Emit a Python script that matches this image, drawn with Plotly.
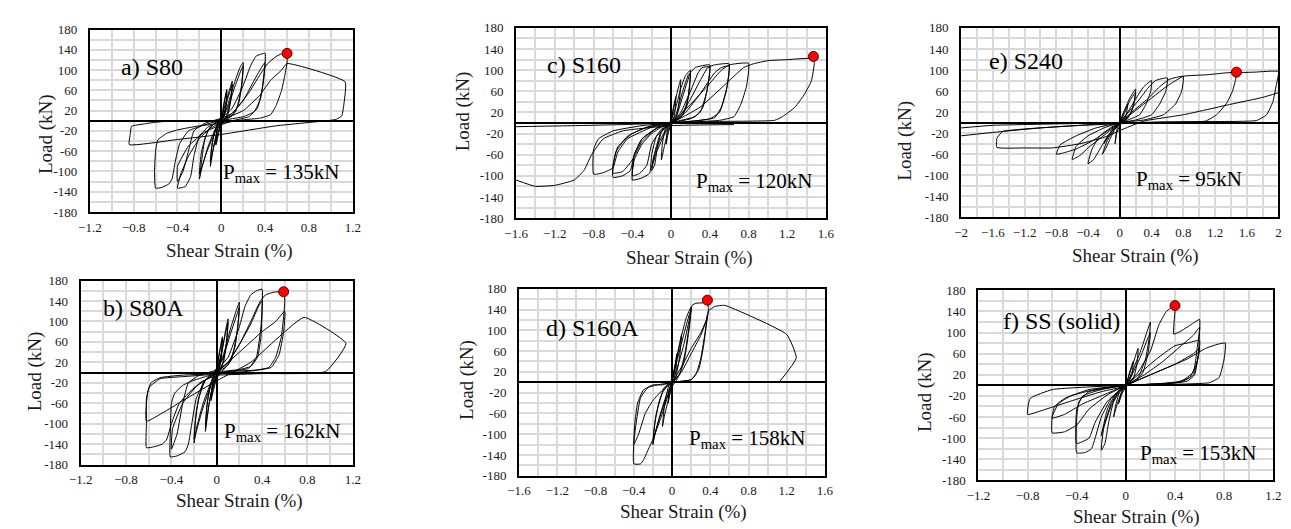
import plotly.graph_objects as go

# ---------------- data ----------------
S80_pts = [
(0,0),(0.02,30),(0.05,62),(0.045,35),(0.03,12),(0.01,3),(-0.01,-8),(-0.03,-30),(-0.05,-48),(-0.045,-25),(-0.03,-8),(-0.01,0),(0.01,10),(0.03,40),(0.05,58),(0.04,25),(0.02,5),(0,-3),(-0.03,-28),(-0.05,-45),(-0.04,-15),(-0.02,2),(0,6),
(0.04,35),(0.08,65),(0.1,78),(0.09,45),(0.06,12),(0.02,0),(-0.03,-15),(-0.07,-50),(-0.1,-90),(-0.09,-55),(-0.06,-20),(-0.02,-2),(0.02,12),(0.06,45),(0.1,72),(0.08,35),(0.04,5),(0,-6),(-0.05,-35),(-0.1,-80),(-0.08,-40),(-0.04,-8),(0,5),
(0.05,25),(0.12,75),(0.17,105),(0.2,115),(0.19,80),(0.16,35),(0.1,10),(0.03,2),(-0.05,-15),(-0.12,-50),(-0.18,-95),(-0.2,-115),(-0.18,-80),(-0.15,-35),(-0.1,-12),(-0.03,0),(0.05,20),(0.12,65),(0.18,100),(0.2,108),(0.18,60),(0.13,18),(0.05,3),(-0.05,-20),(-0.13,-60),(-0.2,-105),(-0.18,-60),(-0.12,-18),(-0.05,-3),(0,5),
(0.1,25),(0.2,70),(0.27,110),(0.32,128),(0.4,133),(0.39,95),(0.36,45),(0.3,18),(0.2,8),(0.05,2),(-0.1,-15),(-0.2,-35),(-0.3,-70),(-0.37,-105),(-0.4,-133),(-0.33,-130),(-0.28,-110),(-0.25,-70),(-0.2,-30),(-0.12,-12),(0,0),(0.1,15),(0.2,40),(0.3,80),(0.38,110),(0.4,115),(0.38,70),(0.33,25),(0.25,8),(0.1,0),(0,-8),(-0.15,-22),(-0.3,-50),(-0.4,-90),(-0.4,-120),(-0.35,-100),(-0.3,-60),(-0.25,-20),(-0.15,-5),(0,5),
(0.1,15),(0.25,55),(0.35,90),(0.42,112),(0.5,127),(0.55,132),(0.6,133),(0.6,115),(0.58,90),(0.55,60),(0.5,30),(0.45,12),(0.35,5),(0.2,2),(0,-5),(-0.2,-10),(-0.4,-18),(-0.5,-25),(-0.58,-38),(-0.6,-60),(-0.61,-100),(-0.6,-133),(-0.55,-132),(-0.48,-125),(-0.45,-115),(-0.42,-80),(-0.38,-45),(-0.3,-20),(-0.15,-8),(0,2),(0.2,20),(0.35,50),(0.45,80),(0.55,100),(0.6,113),
(1.13,77),(1.12,35),(1.1,10),(1.05,3),(1.0,1),(0.5,-10),(0,-27),(-0.4,-37),(-0.84,-47),(-0.83,-25),(-0.82,-11),(-0.7,-6),(-0.6,-3),(-0.5,-1)]

S80A_pts = [
(0,0),(0.02,35),(0.05,70),(0.04,35),(0.02,8),(0,-5),(-0.03,-30),(-0.05,-55),(-0.04,-25),(-0.02,-5),(0,8),(0.03,45),(0.05,65),(0.04,25),(0.01,0),(-0.03,-35),(-0.05,-50),(-0.03,-15),(0,5),
(0.05,45),(0.08,85),(0.1,105),(0.09,65),(0.06,20),(0.02,3),(-0.03,-20),(-0.07,-65),(-0.1,-115),(-0.09,-70),(-0.06,-25),(-0.02,-3),(0.02,15),(0.06,60),(0.1,98),(0.08,50),(0.04,8),(0,-5),(-0.05,-40),(-0.1,-105),(-0.08,-55),(-0.04,-12),(0,5),
(0.06,35),(0.12,85),(0.17,120),(0.2,138),(0.19,100),(0.16,50),(0.1,15),(0.03,3),(-0.05,-20),(-0.12,-60),(-0.18,-110),(-0.2,-138),(-0.19,-100),(-0.16,-50),(-0.1,-15),(-0.03,0),(0.05,25),(0.12,75),(0.18,115),(0.2,128),(0.18,80),(0.13,25),(0.05,3),(-0.05,-25),(-0.13,-75),(-0.2,-130),(-0.18,-75),(-0.12,-20),(-0.04,-2),(0,5),
(0.1,30),(0.2,90),(0.25,130),(0.3,152),(0.35,160),(0.4,163),(0.4,120),(0.39,70),(0.36,30),(0.3,12),(0.2,6),(0.05,2),(-0.1,-8),(-0.2,-15),(-0.3,-25),(-0.37,-40),(-0.4,-60),(-0.41,-120),(-0.41,-165),(-0.35,-163),(-0.28,-155),(-0.25,-140),(-0.22,-100),(-0.18,-50),(-0.1,-15),(0,0),(0.1,20),(0.2,55),(0.3,95),(0.37,130),(0.4,140),(0.39,90),(0.35,30),(0.28,8),(0.1,2),(0,-5),(-0.15,-20),(-0.3,-60),(-0.39,-110),(-0.4,-150),(-0.35,-120),(-0.3,-60),(-0.25,-20),(-0.15,-5),(0,5),
(0.1,20),(0.2,55),(0.3,100),(0.38,138),(0.43,152),(0.5,157),(0.59,158),(0.6,140),(0.59,110),(0.57,70),(0.52,30),(0.46,10),(0.35,5),(0.1,2),(-0.1,-3),(-0.3,-5),(-0.5,-10),(-0.58,-20),(-0.62,-50),(-0.62,-100),(-0.62,-147),(-0.55,-145),(-0.48,-140),(-0.44,-130),(-0.4,-100),(-0.33,-60),(-0.2,-30),(0,0),(0.2,40),(0.4,80),(0.52,100),(0.6,120),(0.59,80),(0.55,35),(0.48,10),(0.3,3),(0,-3),(-0.3,-8),(-0.5,-12),(-0.6,-30),(-0.62,-60),(-0.62,-95),(-0.3,-55),(0,-16),(0.3,20),(0.5,60),(0.77,108),(1.14,57),(0.96,2),(0.4,-2),(0,-5)]

S160_pts = [
(0,0),(0.02,25),(0.05,50),(0.04,20),(0.02,5),(0,-3),(-0.03,-20),(-0.05,-40),(-0.04,-15),(-0.02,0),(0,5),
(0.04,40),(0.08,70),(0.1,82),(0.09,50),(0.06,15),(0.02,3),(-0.03,-15),(-0.07,-45),(-0.1,-70),(-0.09,-40),(-0.06,-12),(-0.02,-2),(0,5),
(0.05,30),(0.1,65),(0.15,90),(0.2,100),(0.19,70),(0.16,30),(0.1,10),(0.03,3),(-0.05,-12),(-0.12,-35),(-0.18,-65),(-0.2,-90),(-0.17,-80),(-0.14,-45),(-0.1,-18),(-0.03,-3),(0.05,15),(0.12,60),(0.18,92),(0.2,95),(0.18,50),(0.12,15),(0.04,3),(-0.05,-15),(-0.15,-55),(-0.2,-85),(-0.16,-50),(-0.1,-15),(0,3),
(0.05,10),(0.12,50),(0.2,95),(0.25,105),(0.4,110),(0.38,70),(0.33,30),(0.25,12),(0.1,5),(0,0),(-0.1,-8),(-0.2,-20),(-0.3,-40),(-0.38,-70),(-0.4,-108),(-0.3,-104),(-0.22,-95),(-0.2,-60),(-0.15,-25),(-0.05,-8),(0,0),
(0.1,20),(0.2,60),(0.28,95),(0.32,105),(0.4,106),(0.37,60),(0.3,20),(0.2,8),(0,0),(-0.15,-10),(-0.3,-30),(-0.38,-60),(-0.4,-100),(-0.32,-95),(-0.25,-80),(-0.2,-40),(-0.1,-12),(0,0),
(0.1,15),(0.2,45),(0.3,80),(0.38,105),(0.45,110),(0.6,112),(0.58,70),(0.52,30),(0.45,10),(0.3,5),(0,0),(-0.2,-5),(-0.4,-20),(-0.55,-45),(-0.6,-80),(-0.6,-103),(-0.5,-100),(-0.42,-90),(-0.38,-60),(-0.3,-30),(-0.15,-10),(0,0),
(0.15,20),(0.3,55),(0.45,95),(0.52,105),(0.6,108),(0.57,60),(0.5,20),(0.4,8),(0.2,3),(0,0),(-0.25,-8),(-0.45,-25),(-0.57,-55),(-0.6,-95),(-0.5,-92),(-0.4,-70),(-0.3,-35),(-0.15,-10),(0,0),
(0.2,35),(0.4,75),(0.52,100),(0.6,110),(0.8,113),(0.78,70),(0.72,35),(0.65,12),(0.5,5),(0,0),(-0.3,-5),(-0.6,-15),(-0.75,-30),(-0.8,-50),(-0.8,-97),(-0.7,-94),(-0.6,-85),(-0.55,-55),(-0.45,-30),(-0.2,-8),(0,0),
(0.3,30),(0.6,80),(0.75,105),(0.85,112),(1.0,118),(1.2,120),(1.46,122),(1.48,115),(1.45,80),(1.38,55),(1.28,30),(1.15,12),(1.07,5),(0.5,3),(0,0),(-0.5,-3),(-1.0,-5),(-1.6,-7),
None,
(-1.6,-108),(-1.4,-120),(-1.2,-118),(-1.0,-108),(-0.9,-90),(-0.82,-60),(-0.7,-30),(-0.5,-15),(0,-5),(0.65,-3)]

S160A_pts = [
(0,0),(0.03,30),(0.05,55),(0.04,20),(0.01,0),(-0.02,-20),(-0.04,-40),(-0.03,-15),(0,5),
(0.04,40),(0.08,75),(0.1,92),(0.08,50),(0.04,10),(0,-5),(-0.04,-35),(-0.08,-65),(-0.1,-85),(-0.08,-45),(-0.04,-10),(0,5),
(0.05,45),(0.1,90),(0.15,125),(0.2,145),(0.18,110),(0.14,60),(0.08,15),(0.02,2),(-0.05,-20),(-0.12,-60),(-0.18,-100),(-0.2,-120),(-0.18,-80),(-0.14,-40),(-0.08,-10),(0,5),
(0.05,40),(0.12,90),(0.18,130),(0.2,140),(0.17,90),(0.12,35),(0.05,5),(0,-8),(-0.08,-40),(-0.15,-80),(-0.2,-115),(-0.17,-65),(-0.1,-20),(0,5),
(0.05,25),(0.12,70),(0.18,120),(0.21,148),(0.25,152),(0.33,153),(0.37,157),(0.38,140),(0.35,100),(0.3,45),(0.25,15),(0.2,5),(0.1,2),(0,0),(-0.1,-5),(-0.2,-5),(-0.3,-15),(-0.36,-40),(-0.39,-80),(-0.4,-115),(-0.4,-157),(-0.33,-157),(-0.3,-150),(-0.25,-130),(-0.2,-110),(-0.12,-70),(-0.05,-30),(0,0),
(0.1,20),(0.2,55),(0.3,90),(0.36,120),(0.37,130),(0.33,70),(0.28,25),(0.2,5),(0,0),(-0.15,-5),(-0.25,-10),(-0.33,-30),(-0.38,-85),(-0.4,-120),(-0.35,-100),(-0.28,-60),(-0.2,-35),(-0.1,-15),(0,0),
(0.1,30),(0.2,65),(0.3,95),(0.37,125),(0.38,137),(0.45,146),(0.55,148),(1.2,92),(1.3,47),(1.12,0)]

S240_pts = [
(0,0),(0.05,20),(0.1,35),(0.08,15),(0.04,3),(0,-5),(-0.04,-20),(-0.06,-40),(-0.04,-15),(-0.02,-3),(0,3),
(0.05,20),(0.12,45),(0.2,64),(0.18,40),(0.13,15),(0.05,3),(0,-3),(-0.08,-15),(-0.16,-35),(-0.22,-60),(-0.18,-50),(-0.12,-30),(-0.06,-12),(0,0),
(0.05,15),(0.12,40),(0.2,58),(0.17,30),(0.1,8),(0,-2),(-0.1,-15),(-0.2,-40),(-0.18,-35),(-0.1,-15),(0,0),
(0.1,20),(0.2,45),(0.3,68),(0.4,80),(0.39,60),(0.33,35),(0.25,15),(0.1,5),(0,0),(-0.1,-8),(-0.25,-25),(-0.35,-50),(-0.4,-78),(-0.33,-70),(-0.25,-50),(-0.15,-25),(-0.05,-8),(0,0),
(0.1,18),(0.25,45),(0.35,65),(0.45,80),(0.6,85),(0.58,60),(0.5,35),(0.4,15),(0.2,5),(0,0),(-0.2,-10),(-0.4,-25),(-0.55,-45),(-0.6,-70),(-0.5,-62),(-0.4,-48),(-0.25,-30),(-0.1,-12),(0,0),
(0.15,20),(0.35,45),(0.5,68),(0.62,82),(0.8,88),(0.78,60),(0.7,35),(0.55,15),(0.3,5),(0,0),(-0.3,-10),(-0.55,-25),(-0.75,-42),(-0.8,-60),(-0.7,-57),(-0.55,-50),(-0.35,-35),(-0.15,-15),(0,0),
(0.3,35),(0.6,70),(0.8,88),(1.1,91),(1.47,95),(1.46,82),(1.42,60),(1.35,38),(1.22,15),(1.08,3),(0.5,1),(0,-2),(-0.6,-6),(-1.2,-12),(-1.48,-17),(-1.55,-30),(-1.55,-47),(-1.2,-48),(-0.85,-48),(-0.5,-40),(-0.2,-28),(0,-15),(0.3,3),(0.8,15),(1.4,35),(1.8,48),(2.0,57),
None,
(1.47,95),(1.7,96),(2.0,97),(1.97,70),(1.93,40),(1.85,15),(1.72,4),(1.0,2),(0,0),(-1.0,-3),(-1.6,-5),(-2.0,-10),
None,
(-2.0,-25),(-1.5,-17),(-1.0,-10),(-0.5,-5),(0,0)]

SS_pts = [
(0,0),(0.03,25),(0.06,45),(0.05,20),(0.02,5),(0,-3),(-0.03,-15),(-0.06,-35),(-0.04,-15),(-0.02,-3),(0,3),
(0.05,35),(0.1,70),(0.09,40),(0.06,12),(0.02,3),(-0.03,-12),(-0.07,-35),(-0.1,-60),(-0.08,-35),(-0.05,-12),(0,0),
(0.05,25),(0.12,65),(0.17,100),(0.2,120),(0.19,90),(0.16,50),(0.1,15),(0.03,3),(-0.05,-12),(-0.12,-40),(-0.18,-80),(-0.2,-123),(-0.17,-110),(-0.14,-70),(-0.1,-30),(-0.05,-8),(0,0),
(0.06,25),(0.13,60),(0.18,90),(0.2,100),(0.18,60),(0.14,25),(0.08,8),(0,0),(-0.08,-15),(-0.15,-45),(-0.2,-95),(-0.17,-70),(-0.12,-35),(-0.05,-8),(0,0),
(0.1,25),(0.2,65),(0.27,115),(0.33,140),(0.4,151),(0.4,140),(0.39,97),(0.45,103),(0.55,118),(0.6,125),(0.6,100),(0.59,60),(0.56,20),(0.5,8),(0.3,3),(0,0),(-0.15,-5),(-0.3,-12),(-0.38,-30),(-0.4,-60),(-0.4,-128),(-0.33,-127),(-0.28,-120),(-0.25,-100),(-0.2,-60),(-0.12,-25),(0,0),
(0.1,20),(0.25,50),(0.4,75),(0.5,80),(0.6,85),(0.59,55),(0.55,20),(0.45,6),(0.2,2),(0,0),(-0.2,-8),(-0.35,-20),(-0.4,-45),(-0.4,-110),(-0.3,-100),(-0.25,-70),(-0.15,-30),(0,0),
(0.15,20),(0.3,45),(0.45,75),(0.55,95),(0.6,110),(0.58,70),(0.55,25),(0.45,8),(0.2,2),(0,0),(-0.25,-8),(-0.45,-20),(-0.55,-35),(-0.6,-60),(-0.6,-90),(-0.5,-88),(-0.4,-75),(-0.3,-45),(-0.15,-18),(0,0),
(0.2,20),(0.4,40),(0.55,60),(0.6,70),(0.58,45),(0.52,15),(0.4,5),(0,0),(-0.3,-8),(-0.5,-25),(-0.58,-40),(-0.6,-62),(-0.5,-55),(-0.35,-35),(-0.15,-15),(0,0),
(0.25,25),(0.5,50),(0.65,70),(0.75,78),(0.81,80),(0.8,50),(0.76,15),(0.68,5),(0.4,2),(0,0),(-0.3,-3),(-0.6,-8),(-0.78,-25),(-0.8,-55),(-0.65,-45),(-0.45,-30),(-0.2,-12),(0,0)]

panel_labels = ["a) S80", "b) S80A", "c) S160", "d) S160A", "e) S240", "f) SS (solid)"]
pmax_values = [135, 162, 120, 158, 95, 153]
peak_strain = [0.6, 0.59, 1.47, 0.37, 1.47, 0.4]
peak_load = [133, 158, 126, 158, 96, 151]
x_limits = [1.2, 1.2, 1.6, 1.6, 2.0, 1.2]
curves = [S80_pts, S80A_pts, S160_pts, S160A_pts, S240_pts, SS_pts]
y_ticks = [-180, -140, -100, -60, -20, 20, 60, 100, 140, 180]

# ---------------- layout (pixel geometry) ----------------
W, H = 1291, 529
areas = [(71, 338.3, 15, 202.7), (61.7, 338.3, 273.3, 462.7),
         (504.3, 819.3, 13.3, 209), (507.3, 818.3, 281.7, 474.3),
         (956.7, 1279.3, 13.3, 208.3), (974.3, 1274, 283.3, 479)]
label_pos = [(-0.93, 107), (-1.02, 126), (-1.3, 109), (-1.34, 105), (-1.67, 118), (-1.02, 122)]
pmax_pos = [(0.0, -103), (0.05, -116), (0.24, -112), (0.156, -110), (0.18, -109), (0.1, -130)]
xtitle_pos = [(212.5, 243), (223, 500), (681, 250), (674, 512), (1134, 248), (1135, 517)]
ytitle_pos = [(26, 123), (15, 367), (450.5, 99), (455, 376), (900, 129), (920, 388)]

FONT = "'Liberation Serif', 'Times New Roman', Times, 'DejaVu Serif', serif"
GRID = "#d9d9d9"
INK = "#1a1a1a"

fig = go.Figure()
layout = dict(width=W, height=H, margin=dict(l=0, r=0, t=0, b=0),
              paper_bgcolor="white", plot_bgcolor="white", showlegend=False,
              font=dict(family=FONT, color=INK))
annotations = []

for i in range(6):
    sfx = "" if i == 0 else str(i + 1)
    xa, ya = "x" + sfx, "y" + sfx
    l, r, t, b = areas[i]
    xs = [p[0] if p is not None else None for p in curves[i]]
    ys = [p[1] if p is not None else None for p in curves[i]]
    fig.add_trace(go.Scatter(x=xs, y=ys, mode="lines", xaxis=xa, yaxis=ya,
                             line=dict(color="black", width=1, shape="spline", smoothing=0.4),
                             hoverinfo="skip"))
    fig.add_trace(go.Scatter(x=[peak_strain[i]], y=[peak_load[i]], mode="markers",
                             xaxis=xa, yaxis=ya,
                             marker=dict(size=10, color="#ff0000",
                                         line=dict(color="#5a0000", width=1))))
    lim = x_limits[i]
    common = dict(showgrid=True, gridcolor=GRID, gridwidth=1.5,
                  zeroline=True, zerolinecolor="black", zerolinewidth=2,
                  showline=True, mirror=True, linecolor="black", linewidth=2,
                  ticks="", tickfont=dict(family=FONT, size=13, color=INK))
    layout["xaxis" + sfx] = dict(domain=[l / W, r / W], range=[-lim, lim], anchor=ya,
                                 tick0=0, dtick=0.4, ticklabelstandoff=2,
                                 minor=dict(dtick=0.2, tick0=0, showgrid=True,
                                            gridcolor=GRID, gridwidth=1.5),
                                 **common)
    layout["yaxis" + sfx] = dict(domain=[1 - b / H, 1 - t / H], range=[-180, 180], anchor=xa,
                                 tickmode="array", tickvals=y_ticks,
                                 ticktext=[str(v) for v in y_ticks], ticklabelstandoff=8,
                                 minor=dict(dtick=20, tick0=0, showgrid=True,
                                            gridcolor=GRID, gridwidth=1.5),
                                 **common)
    annotations.append(dict(x=label_pos[i][0], y=label_pos[i][1], xref=xa, yref=ya,
                            text=panel_labels[i], showarrow=False, xanchor="left",
                            yanchor="middle", font=dict(family=FONT, size=24, color="black")))
    annotations.append(dict(x=pmax_pos[i][0], y=pmax_pos[i][1], xref=xa, yref=ya,
                            text="P<sub>max</sub> = %dkN" % pmax_values[i], showarrow=False,
                            xanchor="left", yanchor="middle",
                            font=dict(family=FONT, size=21, color="black")))
    annotations.append(dict(x=xtitle_pos[i][0] / W, y=1 - xtitle_pos[i][1] / H,
                            xref="paper", yref="paper", text="Shear Strain (%)",
                            showarrow=False, xanchor="center", yanchor="middle",
                            font=dict(family=FONT, size=19, color=INK)))
    annotations.append(dict(x=ytitle_pos[i][0] / W, y=1 - ytitle_pos[i][1] / H,
                            xref="paper", yref="paper", text="Load (kN)", textangle=-90,
                            showarrow=False, xanchor="center", yanchor="middle",
                            font=dict(family=FONT, size=19, color=INK)))

layout["annotations"] = annotations
fig.update_layout(**layout)
fig.write_html("out.html")
